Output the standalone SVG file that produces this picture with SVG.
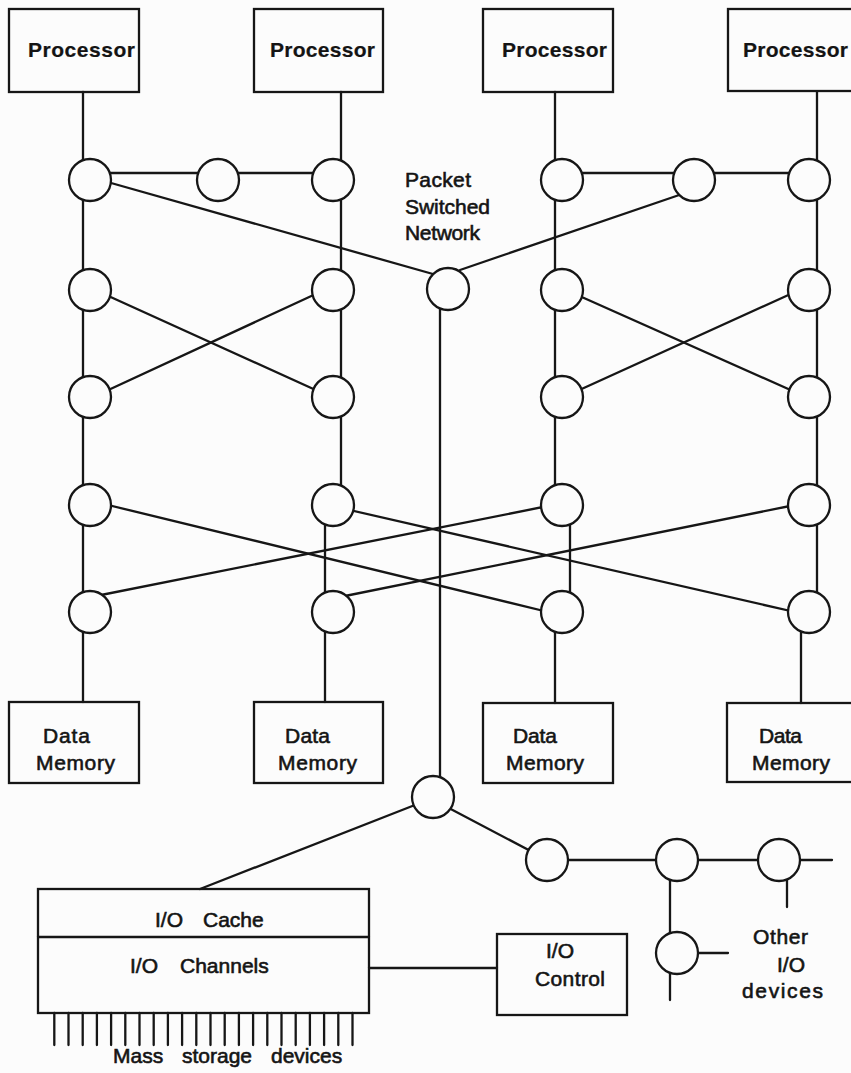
<svg xmlns="http://www.w3.org/2000/svg" width="851" height="1073" viewBox="0 0 851 1073">
  <style>
    .box { fill: none; stroke: #161616; stroke-width: 2.3; }
    .sw { fill: #fcfcfc; stroke: #161616; stroke-width: 2.3; }
    .wire { fill: none; stroke: #161616; stroke-width: 2.3; stroke-linecap: round; }
    .lbl { font-family: "Liberation Sans", Arial, sans-serif; font-size: 21px; fill: #141414; stroke: #141414; stroke-width: 0.6; }
    .hd { font-weight: bold; stroke-width: 0.2; }
  </style>

  <rect width="851" height="1073" fill="#fcfcfc"/>

  <!-- connectors: drawn first, switch circles sit on top -->
  <g id="connectors" class="wire">
    <!-- processor / memory columns -->
    <path d="M83 92 V702"/>
    <path d="M341 92 V505 M325 505 V702"/>
    <path d="M555 92 V505 M570 505 V612 M555 612 V703"/>
    <path d="M817 92 V612 M801 612 V703"/>
    <!-- top ring links -->
    <path d="M100 173 H330"/>
    <path d="M570 173 H800"/>
    <!-- links into the packet switch -->
    <path d="M104 181 L440 276"/>
    <path d="M688 192 L460 270"/>
    <path d="M440 295 V790"/>
    <!-- first butterfly stage -->
    <path d="M104 294 L320 392"/>
    <path d="M320 292 L104 392"/>
    <path d="M575 294 L795 392"/>
    <path d="M795 292 L575 392"/>
    <!-- second butterfly stage -->
    <path d="M104 504 L548 612"/>
    <path d="M96 596 L548 506"/>
    <path d="M345 509 L795 612"/>
    <path d="M340 597 L795 505"/>
    <!-- I/O side -->
    <path d="M420 803 L200 889"/>
    <path d="M445 806 L540 856"/>
    <path d="M547 860 H832"/>
    <path d="M670 860 V1000"/>
    <path d="M787 860 V907"/>
    <path d="M677 953 H728"/>
    <path d="M369 968 H497"/>
    <!-- mass storage device lines -->
    <path d="M54.3 1013 V1045 M68.5 1013 V1045 M82.7 1013 V1045 M96.9 1013 V1045 M111.1 1013 V1045 M125.3 1013 V1045 M139.5 1013 V1045 M153.7 1013 V1045 M167.9 1013 V1045 M182.1 1013 V1045 M196.3 1013 V1045 M210.5 1013 V1045 M224.7 1013 V1045 M238.9 1013 V1045 M253.1 1013 V1045 M267.3 1013 V1045 M281.5 1013 V1045 M295.7 1013 V1045 M309.9 1013 V1045 M324.1 1013 V1045 M338.3 1013 V1045 M352.5 1013 V1045"/>
  </g>

  <!-- processors -->
  <g id="processor-1"><rect class="box" x="9" y="9" width="130" height="83"/><text class="lbl hd" x="28" y="57" textLength="107" lengthAdjust="spacing">Processor</text></g>
  <g id="processor-2"><rect class="box" x="254" y="9" width="129" height="83"/><text class="lbl hd" x="270" y="57" textLength="105" lengthAdjust="spacing">Processor</text></g>
  <g id="processor-3"><rect class="box" x="483" y="9" width="130" height="83"/><text class="lbl hd" x="502" y="57" textLength="105" lengthAdjust="spacing">Processor</text></g>
  <g id="processor-4"><rect class="box" x="728" y="9" width="135" height="82"/><text class="lbl hd" x="743" y="57" textLength="105" lengthAdjust="spacing">Processor</text></g>

  <!-- switching nodes -->
  <g id="switches" class="sw">
    <circle id="s1a" cx="90" cy="180" r="21"/>
    <circle id="s1b" cx="218" cy="180" r="21"/>
    <circle id="s1c" cx="333" cy="180" r="21"/>
    <circle id="s1d" cx="562" cy="180" r="21"/>
    <circle id="s1e" cx="694" cy="180" r="21"/>
    <circle id="s1f" cx="809" cy="180" r="21"/>
    <circle id="s2a" cx="90" cy="290" r="21"/>
    <circle id="s2b" cx="333" cy="290" r="21"/>
    <circle id="s2c" cx="562" cy="290" r="21"/>
    <circle id="s2d" cx="809" cy="290" r="21"/>
    <circle id="s3a" cx="90" cy="397" r="21"/>
    <circle id="s3b" cx="333" cy="397" r="21"/>
    <circle id="s3c" cx="562" cy="397" r="21"/>
    <circle id="s3d" cx="809" cy="397" r="21"/>
    <circle id="s4a" cx="90" cy="505" r="21"/>
    <circle id="s4b" cx="333" cy="505" r="21"/>
    <circle id="s4c" cx="562" cy="505" r="21"/>
    <circle id="s4d" cx="809" cy="505" r="21"/>
    <circle id="s5a" cx="90" cy="612" r="21"/>
    <circle id="s5b" cx="333" cy="612" r="21"/>
    <circle id="s5c" cx="562" cy="612" r="21"/>
    <circle id="s5d" cx="809" cy="612" r="21"/>
  </g>

  <!-- packet switched network hub -->
  <g id="packet-switch">
    <circle class="sw" cx="448" cy="289" r="21"/>
    <text class="lbl" x="405" y="187" textLength="66" lengthAdjust="spacing">Packet</text>
    <text class="lbl" x="405" y="214" textLength="85" lengthAdjust="spacing">Switched</text>
    <text class="lbl" x="405" y="240" textLength="75" lengthAdjust="spacing">Network</text>
  </g>

  <!-- data memories -->
  <g id="memory-1"><rect class="box" x="9" y="702" width="130" height="81"/><text class="lbl" x="43" y="743" textLength="47" lengthAdjust="spacing">Data</text><text class="lbl" x="36" y="770" textLength="79" lengthAdjust="spacing">Memory</text></g>
  <g id="memory-2"><rect class="box" x="254" y="702" width="129" height="81"/><text class="lbl" x="285" y="743" textLength="45" lengthAdjust="spacing">Data</text><text class="lbl" x="278" y="770" textLength="79" lengthAdjust="spacing">Memory</text></g>
  <g id="memory-3"><rect class="box" x="483" y="703" width="130" height="80"/><text class="lbl" x="513" y="743" textLength="44" lengthAdjust="spacing">Data</text><text class="lbl" x="506" y="770" textLength="78" lengthAdjust="spacing">Memory</text></g>
  <g id="memory-4"><rect class="box" x="727" y="703" width="135" height="79"/><text class="lbl" x="759" y="743" textLength="43" lengthAdjust="spacing">Data</text><text class="lbl" x="752" y="770" textLength="78" lengthAdjust="spacing">Memory</text></g>

  <!-- I/O bus nodes -->
  <g id="io-switches" class="sw">
    <circle id="io-hub" cx="433" cy="797" r="21"/>
    <circle id="io-s1" cx="547" cy="860" r="21"/>
    <circle id="io-s2" cx="677" cy="860" r="21"/>
    <circle id="io-s3" cx="779" cy="860" r="21"/>
    <circle id="io-s4" cx="677" cy="953" r="21"/>
  </g>

  <!-- I/O cache and channels -->
  <g id="io-unit">
    <rect class="box" x="38" y="889" width="331" height="124"/>
    <path class="wire" d="M38 937 H369"/>
    <text class="lbl" y="927"><tspan x="155">I/O</tspan><tspan x="203">Cache</tspan></text>
    <text class="lbl" y="973"><tspan x="130">I/O</tspan><tspan x="180">Channels</tspan></text>
  </g>

  <g id="io-control">
    <rect class="box" x="497" y="934" width="130" height="81"/>
    <text class="lbl" x="546" y="958">I/O</text>
    <text class="lbl" x="535" y="986" textLength="70" lengthAdjust="spacing">Control</text>
  </g>

  <g id="other-io-label">
    <text class="lbl" x="753" y="944" textLength="55" lengthAdjust="spacing">Other</text>
    <text class="lbl" x="777" y="972">I/O</text>
    <text class="lbl" x="742" y="998" textLength="81" lengthAdjust="spacing">devices</text>
  </g>

  <g id="mass-storage-label">
    <text class="lbl" y="1063"><tspan x="113">Mass</tspan><tspan x="182">storage</tspan><tspan x="271">devices</tspan></text>
  </g>
</svg>
